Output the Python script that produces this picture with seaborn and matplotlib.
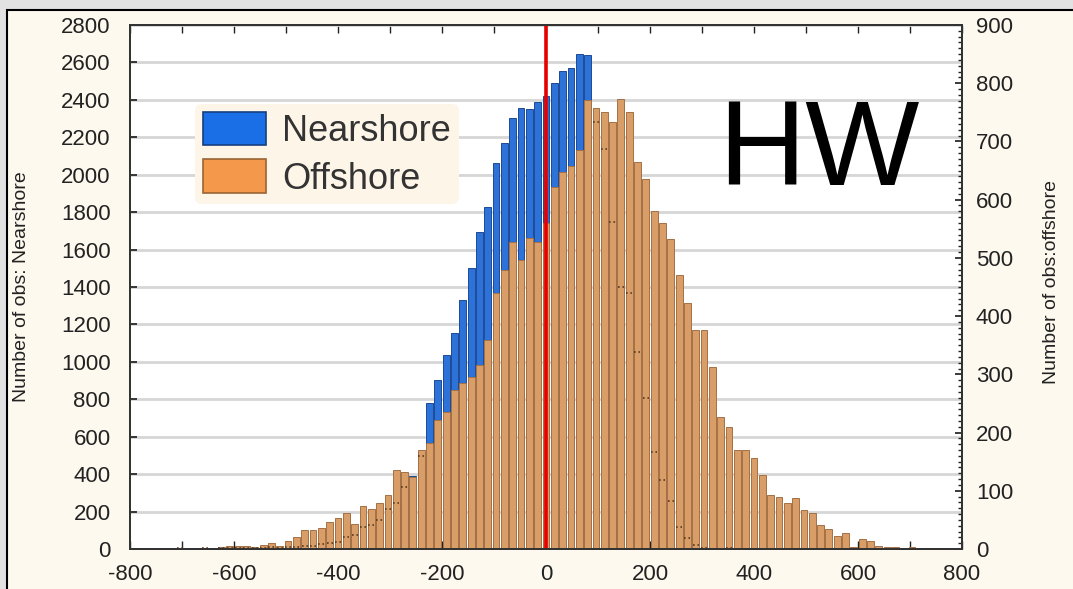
import numpy as np
import pandas as pd
import matplotlib.pyplot as plt
import matplotlib.ticker as mticker
from matplotlib.patches import Patch, Rectangle
import seaborn as sns

sns.set_theme(style="white")
plt.rcParams['font.family'] = ['Liberation Sans', 'DejaVu Sans']
plt.rcParams['axes.unicode_minus'] = False

# bin centres (width 16)
centers = np.arange(-784, 785, 16)
edges = np.arange(-792, 793, 16)

nearshore = [0, 0, 0, 0, 0,
             4, 2, 0, 3, 2,
             5, 4, 6, 5, 8,
             6, 10, 8, 12, 10,
             15, 18, 25, 30, 40,
             65, 75, 120, 130, 155,
             215, 245, 330, 390, 495,
             780, 905, 1035, 1155, 1330,
             1500, 1695, 1825, 2060, 2170,
             2305, 2355, 2350, 2390, 2420,
             2490, 2555, 2570, 2645, 2640,
             2280, 2140, 1750, 1400, 1370,
             1055, 805, 520, 370, 255,
             120, 60, 20, 5, 2,
             0, 3, 0, 0, 2,
             0, 0, 0, 0, 0,
             0, 0, 0, 0, 0,
             0, 0, 0, 0, 0,
             0, 0, 0, 0, 0,
             0, 0, 0, 0]

offshore = [0, 0, 0, 0, 0,
            2, 1, 0, 2, 2,
            3, 6, 5, 6, 4,
            7, 10, 6, 14, 20,
            33, 33, 36, 47, 53,
            62, 43, 74, 68, 79,
            93, 136, 133, 124, 170,
            182, 222, 236, 273, 285,
            296, 316, 359, 439, 479,
            528, 497, 534, 528, 560,
            622, 648, 657, 686, 771,
            757, 751, 734, 773, 751,
            665, 635, 580, 560, 532,
            471, 422, 376, 376, 313,
            227, 210, 170, 170, 156,
            127, 93, 90, 79, 87,
            67, 61, 41, 34, 22,
            28, 4, 18, 13, 5,
            3, 3, 1, 3, 1,
            0, 1, 0, 0]

df = pd.DataFrame({'center': centers, 'near': nearshore, 'off': offshore})

W, H = 1073, 589
fig = plt.figure(figsize=(W / 100, H / 100), dpi=100, facecolor='#e2e2e2')
# cream page with black frame
fig.add_artist(Rectangle((7 / W, -0.01), 1, 1 - 10 / H + 0.01, transform=fig.transFigure,
                         facecolor='#fdf9ee', edgecolor='black', lw=1.5, zorder=0))

ax = fig.add_axes([130 / W, 1 - 549 / H, 832 / W, 524 / H])
ax.set_facecolor('white')
ax2 = ax.twinx()

# horizontal grid
ax.yaxis.grid(True, color='#d6d6d6', lw=2)
ax.set_axisbelow(True)

sns.histplot(data=df, x='center', weights='near', bins=list(edges), shrink=0.82,
             color='#2d72d8', edgecolor='#1d4a94', linewidth=0.7, alpha=1, ax=ax)
sns.histplot(data=df, x='center', weights='off', bins=list(edges), shrink=0.82,
             color='#d99e68', edgecolor='#a47146', linewidth=0.7, alpha=1, ax=ax2)

# hidden nearshore tops show through as dotted marks
hid = df[(df.near > 0) & (df.near / 2800 < df.off / 900)]
ax2.hlines(hid.near, hid.center - 6, hid.center + 6,
           transform=ax.transData, colors='#5a3a1e', linestyles=':', lw=1.2)

ax2.axvline(0, color='#e60000', lw=2.6)

ax.set_xlim(-800, 800)
ax.set_ylim(0, 2800)
ax2.set_ylim(0, 900)

ax.xaxis.set_major_locator(mticker.MultipleLocator(200))
ax.xaxis.set_minor_locator(mticker.MultipleLocator(100))
ax.yaxis.set_major_locator(mticker.MultipleLocator(200))
ax2.yaxis.set_major_locator(mticker.MultipleLocator(100))
ax2.yaxis.set_minor_locator(mticker.MultipleLocator(10))

ax.tick_params(axis='x', which='both', direction='in', top=True, bottom=True,
               length=6, width=1, labelsize=16, pad=11, colors='#222222')
ax.tick_params(axis='y', which='major', direction='in', left=True, length=5,
               labelsize=16, pad=14, colors='#222222')
ax2.tick_params(axis='y', which='major', direction='in', right=True, length=5,
                labelsize=16, pad=10, colors='#222222')
ax2.tick_params(axis='y', which='minor', direction='in', right=True, length=3,
                colors='#222222')

for a in (ax, ax2):
    for s in a.spines.values():
        s.set_color('#333333')
        s.set_linewidth(1.4)

ax.set_xlabel('')
ax.set_ylabel('Number of obs: Nearshore', fontsize=14, color='#222222')
ax.yaxis.set_label_coords(-0.12, 0.5)
ax2.set_ylabel('Number of obs:offshore', fontsize=14, color='#222222')
ax2.yaxis.set_label_coords(1.097, 0.51)

handles = [Patch(facecolor='#1a6fe6', edgecolor='#153f80', lw=1.2),
           Patch(facecolor='#f4984c', edgecolor='#9a6434', lw=1.2)]
leg = ax2.legend(handles, ['Nearshore', 'Offshore'], loc='upper left',
                 bbox_to_anchor=(0.078, 0.85), fontsize=26, frameon=True,
                 handlelength=1.75, handleheight=1.05, handletextpad=0.45,
                 labelspacing=0.3, borderpad=0.22, borderaxespad=0)
leg.get_frame().set_facecolor('#fdf6e8')
leg.get_frame().set_edgecolor('none')
leg.get_frame().set_alpha(1)
for t in leg.get_texts():
    t.set_color('#333333')

ax2.text(0.707, 0.695, 'HW', transform=ax2.transAxes, fontsize=87,
         ha='left', va='baseline', color='black')

fig.savefig('out.png', dpi=100, facecolor=fig.get_facecolor())
